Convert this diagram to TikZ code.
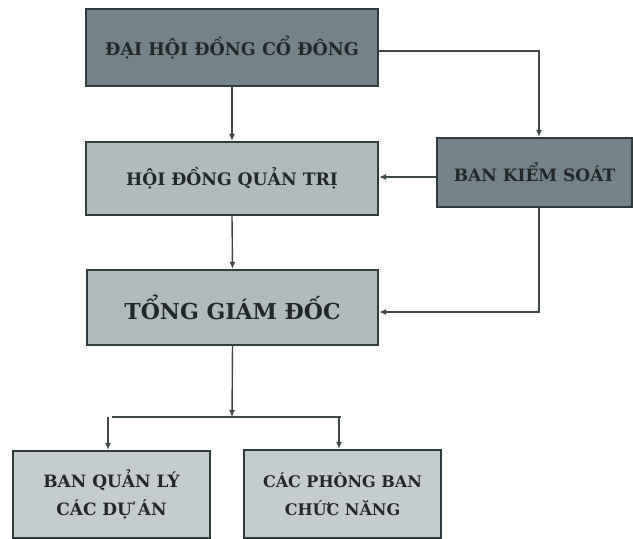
\documentclass[tikz,border=0pt]{standalone}
\usepackage{fontspec}
\setmainfont{DejaVu Serif}
\usetikzlibrary{arrows.meta,calc}
\definecolor{darkfill}{HTML}{74828A}
\definecolor{midfill}{HTML}{B2BBBC}
\definecolor{lightfill}{HTML}{C5CCCD}
\definecolor{edgecol}{HTML}{2F3B3C}
\definecolor{linecol}{HTML}{3E4848}
\definecolor{txtcol}{HTML}{222828}
\begin{document}
\begin{tikzpicture}[x=1pt,y=-1pt,
  box/.style={draw=edgecol,line width=2.2pt,inner sep=0pt,align=center,text=txtcol,font=\bfseries},
  darkbox/.style={box,fill=darkfill},
  midbox/.style={box,fill=midfill},
  lightbox/.style={box,fill=lightfill},
  conn/.style={draw=linecol,line width=1.4pt},
  arr/.style={conn,-{Latex[length=7pt,width=6pt]}}]
\useasboundingbox (0,0) rectangle (633,539);
\node[darkbox,minimum width=292pt,minimum height=77pt,font=\bfseries\fontsize{17.5}{20}\selectfont] (b1) at (232,47.5) {ĐẠI HỘI ĐỒNG CỔ ĐÔNG};
\node[midbox,minimum width=292pt,minimum height=73pt,font=\bfseries\fontsize{17.2}{20}\selectfont] (b2) at (232,178.5) {HỘI ĐỒNG QUẢN TRỊ};
\node[darkbox,minimum width=195pt,minimum height=69pt,font=\bfseries\fontsize{17}{20}\selectfont] (b3) at (534.5,172.5) {BAN KIỂM SOÁT};
\node[midbox,minimum width=291pt,minimum height=75pt,font=\bfseries\fontsize{22}{26}\selectfont] (b4) at (232.5,307.5) {TỔNG GIÁM ĐỐC};
\node[lightbox,minimum width=197pt,minimum height=87pt,font=\bfseries\fontsize{17}{28}\selectfont] (b5) at (111.5,494.5) {BAN QUẢN LÝ\\CÁC DỰ ÁN};
\node[lightbox,minimum width=197pt,minimum height=88pt,font=\bfseries\fontsize{16}{28}\selectfont] (b6) at (342.5,494) {CÁC PHÒNG BAN\\CHỨC NĂNG};
\coordinate (bus) at (232,417);
% connectors
\draw[arr] (b1.south) -- (b2.north);
\draw[arr] ([yshift=-3.5pt]b1.east) -| ([xshift=4.5pt]b3.north);
\draw[arr] ([yshift=-4.5pt]b3.west) -- ([yshift=-4.5pt]b3.west -| b2.east);
\draw[arr] (b2.south) -- (b4.north);
\draw[arr] ([xshift=4.5pt]b3.south) |- ([yshift=-4.5pt]b4.east);
\draw[arr] (b4.south) -- (bus);
\draw[conn] (b5.north |- bus) -- ([xshift=-2pt]b6.north |- bus);
\draw[arr] ([xshift=-3.5pt]b5.north |- bus) -- ([xshift=-3.5pt]b5.north);
\draw[arr] ([xshift=-3.5pt]b6.north |- bus) -- ([xshift=-3.5pt]b6.north);
\end{tikzpicture}
\end{document}
